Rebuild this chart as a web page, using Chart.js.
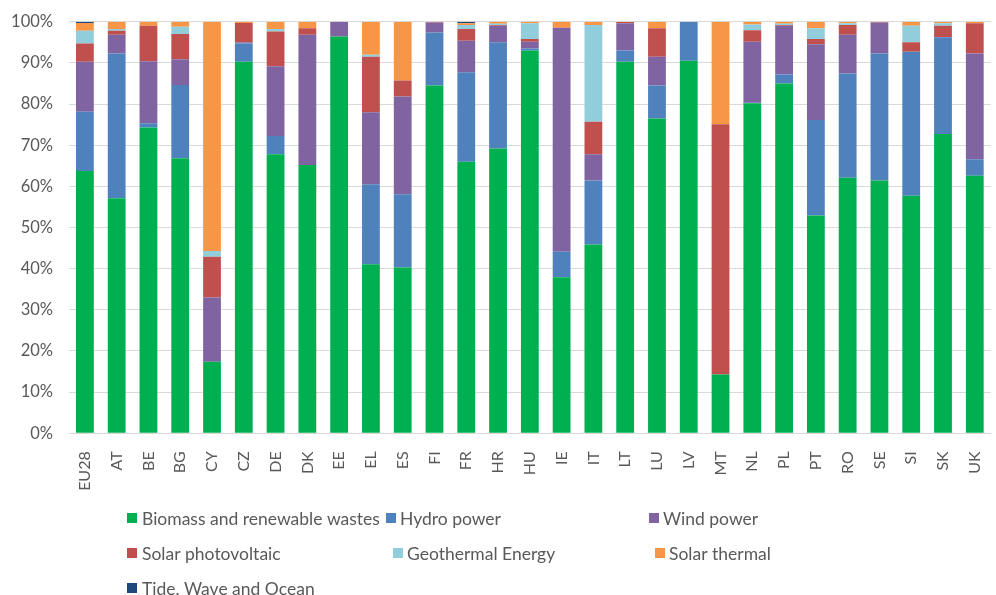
<!DOCTYPE html>
<html>
<head>
<meta charset="utf-8">
<script src="https://cdn.jsdelivr.net/npm/chart.js@4.4.1/dist/chart.umd.min.js"></script>
<style>
  html, body { margin: 0; padding: 0; background: #ffffff; overflow: hidden; }
  #wrap { width: 1004px; height: 595px; }
</style>
</head>
<body>
<div id="wrap"><canvas id="c" width="1004" height="595"></canvas></div>
<script>
const countries = ["EU28","AT","BE","BG","CY","CZ","DE","DK","EE","EL","ES","FI","FR","HR","HU","IE","IT","LT","LU","LV","MT","NL","PL","PT","RO","SE","SI","SK","UK"];

const biomass      = [63.7,57.1,74.3,66.8,17.4,90.3,67.8,65.2,96.4,41.1,40.3,84.5,66.0,69.2,93.0,37.9,45.9,90.3,76.5,90.5,14.3,80.2,85.0,52.9,62.1,61.4,57.7,72.7,62.6];
const hydro        = [14.4,35.2, 1.0,17.8, 0.0, 4.4, 4.4, 0.0, 0.0,19.4,17.8,12.9,21.7,25.8, 0.5, 6.2,15.5, 2.7, 8.0, 9.5, 0.0, 0.1, 2.2,23.2,25.3,30.9,35.0,23.5, 4.0];
const wind         = [12.2, 4.5,15.1, 6.3,15.6, 0.3,17.0,31.6, 3.6,17.5,23.7, 2.4, 7.7, 4.0, 1.6,54.4, 6.4, 6.6, 7.0, 0.0, 0.0,14.8,11.8,18.4, 9.4, 7.5, 0.0, 0.1,25.7];
const solarPV      = [ 4.4, 1.0, 8.6, 6.1, 9.9, 4.7, 8.4, 1.6, 0.0,13.5, 3.9, 0.1, 2.8, 0.2, 0.7, 0.0, 7.9, 0.3, 6.9, 0.0,60.8, 2.8, 0.2, 1.3, 2.4, 0.1, 2.3, 2.7, 7.3];
const geothermal   = [ 3.1, 0.4, 0.0, 1.8, 1.4, 0.0, 0.6, 0.0, 0.0, 0.5, 0.0, 0.0, 1.0, 0.3, 3.8, 0.0,23.5, 0.0, 0.0, 0.0, 0.0, 1.4, 0.3, 2.6, 0.4, 0.0, 4.0, 0.6, 0.0];
const solarThermal = [ 1.9, 1.8, 1.0, 1.2,55.7, 0.3, 1.8, 1.6, 0.0, 8.0,14.3, 0.1, 0.4, 0.5, 0.4, 1.5, 0.8, 0.1, 1.6, 0.0,24.9, 0.7, 0.5, 1.6, 0.4, 0.1, 1.0, 0.4, 0.4];
const tide         = [ 0.3, 0.0, 0.0, 0.0, 0.0, 0.0, 0.0, 0.0, 0.0, 0.0, 0.0, 0.0, 0.4, 0.0, 0.0, 0.0, 0.0, 0.0, 0.0, 0.0, 0.0, 0.0, 0.0, 0.0, 0.0, 0.0, 0.0, 0.0, 0.0];

const seriesNames  = ["Biomass and renewable wastes","Hydro power","Wind power","Solar photovoltaic","Geothermal Energy","Solar thermal","Tide, Wave and Ocean"];
const seriesColors = ["#00B050","#4F81BD","#8064A2","#C0504D","#92CDDC","#F79646","#1F497D"];
const seriesValues = [biomass, hydro, wind, solarPV, geothermal, solarThermal, tide];
const yTickValues  = [0,10,20,30,40,50,60,70,80,90,100];

const FONT = "Lato";
const TEXT = "#595959";

// legend item positions (layout only)
const legendPos = [
  {sx:127, tx:142, y:518},
  {sx:386, tx:400, y:518},
  {sx:649, tx:663, y:518},
  {sx:127, tx:142, y:553},
  {sx:393, tx:407, y:553},
  {sx:655, tx:669, y:553},
  {sx:127, tx:142, y:588}
];

const customLegend = {
  id: 'customLegend',
  afterDraw(chart) {
    const ctx = chart.ctx;
    ctx.save();
    ctx.font = "17.5px " + FONT;
    ctx.textBaseline = "middle";
    ctx.textAlign = "left";
    chart.data.datasets.forEach((ds, i) => {
      const p = legendPos[i];
      ctx.fillStyle = ds.backgroundColor;
      ctx.fillRect(p.sx, p.y - 5, 10, 10);
      ctx.fillStyle = TEXT;
      ctx.fillText(ds.label, p.tx, p.y + 1);
    });
    ctx.restore();
  }
};

const datasets = seriesNames.map((name, i) => ({
  label: name,
  data: seriesValues[i],
  backgroundColor: seriesColors[i],
  borderWidth: 0,
  barPercentage: 0.56,
  categoryPercentage: 1.0
}));

new Chart(document.getElementById('c'), {
  type: 'bar',
  data: { labels: countries, datasets: datasets },
  options: {
    responsive: false,
    animation: false,
    devicePixelRatio: 1,
    layout: { padding: { top: 21.7, right: 1, bottom: 101.7, left: 0 } },
    plugins: {
      legend: { display: false },
      tooltip: { enabled: false }
    },
    scales: {
      x: {
        stacked: true,
        grid: { display: false },
        border: { display: true, color: "#D9D9D9", width: 1 },
        ticks: {
          color: TEXT,
          font: { family: FONT, size: 16 },
          minRotation: 90,
          maxRotation: 90,
          autoSkip: false,
          padding: 10
        },
        afterFit(s) { s.height = 60; }
      },
      y: {
        stacked: true,
        min: 0,
        max: 100,
        afterBuildTicks(s) { s.ticks = yTickValues.map(v => ({ value: v })); },
        grid: { color: "#D9D9D9", drawTicks: true, tickLength: 14, tickColor: "rgba(0,0,0,0)", lineWidth: 1 },
        border: { display: false },
        ticks: {
          color: TEXT,
          font: { family: FONT, size: 16.5 },
          padding: 2,
          callback: v => v + "%"
        },
        afterFit(s) { s.width = 69; }
      }
    }
  },
  plugins: [customLegend]
});
</script>
</body>
</html>
